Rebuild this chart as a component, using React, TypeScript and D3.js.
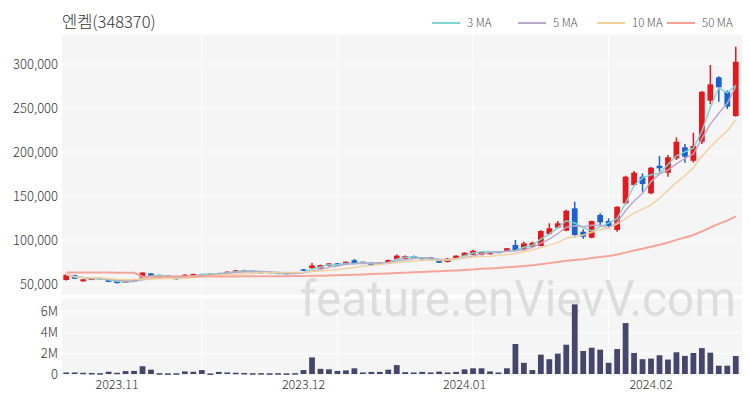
import React from 'react';
import * as d3 from 'd3';

const dates = [
  '2023-10-24','2023-10-25','2023-10-26','2023-10-27','2023-10-30','2023-10-31',
  '2023-11-01','2023-11-02','2023-11-03','2023-11-06','2023-11-07','2023-11-08','2023-11-09','2023-11-10',
  '2023-11-13','2023-11-14','2023-11-15','2023-11-16','2023-11-17','2023-11-20','2023-11-21','2023-11-22',
  '2023-11-23','2023-11-24','2023-11-27','2023-11-28','2023-11-29','2023-11-30',
  '2023-12-01','2023-12-04','2023-12-05','2023-12-06','2023-12-07','2023-12-08','2023-12-11','2023-12-12',
  '2023-12-13','2023-12-14','2023-12-15','2023-12-18','2023-12-19','2023-12-20','2023-12-21','2023-12-22',
  '2023-12-26','2023-12-27','2023-12-28',
  '2024-01-02','2024-01-03','2024-01-04','2024-01-05','2024-01-08','2024-01-09','2024-01-10','2024-01-11',
  '2024-01-12','2024-01-15','2024-01-16','2024-01-17','2024-01-18','2024-01-19','2024-01-22','2024-01-23',
  '2024-01-24','2024-01-25','2024-01-26','2024-01-29','2024-01-30','2024-01-31',
  '2024-02-01','2024-02-02','2024-02-05','2024-02-06','2024-02-07','2024-02-08','2024-02-13','2024-02-14',
  '2024-02-15','2024-02-16','2024-02-19',
];

const opens = [
  54500, 60000, 53000, 55000, 56800, 55500, 53800, 51500, 52500, 57000,
  62000, 60000, 59600, 57500, 59000, 60000, 60200, 60600, 61000, 62200,
  63300, 63600, 65100, 64000, 64000, 63600, 63300, 62200, 66700, 67800,
  67800, 70500, 73500, 72400, 77000, 73500, 74200, 72700, 74200, 78100,
  78800, 81800, 80000, 80300, 77300, 75000, 79200, 81800, 83300, 83000,
  83800, 86700, 86700, 94300, 88600, 92400, 93200, 106800, 114000, 110600,
  136000, 109400, 102600, 128400, 121600, 111400, 141700, 162500, 171900, 153100,
  184400, 176500, 192800, 205300, 190100, 211700, 258300, 284900, 268500, 240900,
];
const highs = [
  61000, 60500, 55800, 56500, 57000, 56000, 54200, 53300, 55000, 63500,
  62500, 60500, 60000, 58000, 61000, 61800, 61500, 62000, 62800, 64300,
  66000, 66300, 65600, 64400, 64300, 64000, 63800, 63600, 67200, 74000,
  72000, 74000, 74000, 75600, 78500, 75600, 74600, 75000, 77700, 83500,
  82500, 82300, 80500, 80800, 77800, 79500, 82600, 86000, 89000, 87200,
  86500, 87200, 91000, 100000, 98000, 98100, 111000, 119000, 121600, 134500,
  143500, 112200, 122000, 130300, 124700, 138500, 173000, 178400, 175800, 183000,
  195500, 196600, 216700, 209100, 221900, 269000, 298900, 286000, 270000, 319700,
];
const lows = [
  54000, 55500, 52800, 54500, 55500, 52000, 50500, 51200, 52300, 56500,
  59000, 58200, 58000, 55000, 58700, 59800, 60000, 60400, 60800, 62000,
  63000, 63300, 63400, 62000, 62300, 61200, 60800, 62000, 64800, 67500,
  67500, 70000, 70500, 72000, 73200, 73300, 71000, 72400, 74000, 77800,
  78500, 78500, 77800, 77800, 73800, 74500, 78800, 81500, 83000, 82500,
  83500, 85000, 86300, 88000, 88000, 92000, 92800, 105700, 113000, 110000,
  103000, 101500, 102000, 117000, 113300, 109400, 140500, 161000, 154900, 152000,
  177600, 171900, 191000, 187900, 188000, 209000, 254500, 257200, 248900, 240000,
];
const closes = [
  60500, 56000, 55300, 56200, 55800, 52500, 51000, 53000, 54500, 63000,
  59300, 58500, 58400, 55400, 60500, 61400, 61200, 61700, 62500, 64000,
  65500, 65900, 63600, 62200, 62600, 61400, 61000, 63300, 65100, 71000,
  71600, 73500, 70800, 75300, 73500, 75300, 71300, 74700, 77300, 82200,
  81800, 78800, 78100, 78100, 74200, 78800, 82200, 85600, 87800, 86700,
  86000, 85200, 90600, 88600, 96200, 96900, 110200, 113300, 119000, 133300,
  105700, 103800, 121600, 120100, 115900, 137800, 171900, 176500, 163600, 182200,
  181500, 194000, 211700, 194700, 206800, 268500, 276900, 273500, 251500, 302600,
];
const volumes = [
  150000, 150000, 120000, 100000, 80000, 220000, 120000, 280000, 300000, 750000,
  420000, 80000, 60000, 70000, 250000, 220000, 380000, 60000, 200000, 150000,
  120000, 100000, 80000, 80000, 70000, 80000, 60000, 80000, 380000, 1600000,
  500000, 450000, 300000, 350000, 550000, 150000, 200000, 200000, 420000, 860000,
  180000, 150000, 200000, 150000, 230000, 150000, 200000, 450000, 550000, 550000,
  250000, 150000, 550000, 2900000, 1080000, 380000, 1870000, 1430000, 1970000, 2830000,
  6730000, 2220000, 2540000, 2350000, 1080000, 2410000, 4920000, 2030000, 1430000, 1490000,
  1810000, 1400000, 2100000, 1750000, 2030000, 2500000, 2060000, 800000, 800000, 1740000,
];
// 50-day MA for the first 49 sessions (earlier history not shown)
const ma50Lead = [
  63200, 63150, 63100, 63050, 63000, 62950, 62900, 62850, 62800,
  58300, 58300, 58350, 58350, 58400, 58400, 58450, 58500, 58500, 58550, 58600,
  58650, 58700, 58750, 58800, 58850, 58900, 58950, 59000, 59050,
  59300, 59500, 59700, 59950, 60200, 60550, 60900, 61250, 61600, 62000,
  62500, 62900, 63300, 63700, 64100, 64500, 64950, 65400, 65900, 66400,
];

const priceTicks = [50000, 100000, 150000, 200000, 250000, 300000];
const volumeTicks = [0, 2000000, 4000000, 6000000];
const gridEvery = 16;

const maSeries = [
  { name: '3 MA', period: 3, color: '#80d5cf' },
  { name: '5 MA', period: 5, color: '#b9a8c9' },
  { name: '10 MA', period: 10, color: '#f2d09c' },
  { name: '50 MA', period: 50, color: '#f5a096' },
];

const UP = '#e3191f';
const DOWN = '#1a62d4';
const FONT = "'Noto Sans CJK KR', 'Noto Sans', sans-serif";

function sma(arr: number[], n: number): number[] {
  return arr.map((_, i) => d3.mean(arr.slice(Math.max(0, i - n + 1), i + 1)) as number);
}

export default function App() {
  const W = 750, H = 400;
  const left = 62, right = 740, plotRight = 742;
  const pTop = 35, pBottom = 295;
  const vTop = 299, vBottom = 375;

  const x = d3.scaleBand<string>().domain(dates).range([left, right]).padding(0);
  const step = x.step();
  const cx = (d: string) => (x(d) as number) + step / 2;
  const bodyW = step * 0.68;

  const y = d3.scaleLinear().domain([37500, 333000]).range([pBottom, pTop]);
  const yv = d3.scaleLinear().domain([0, 7150000]).range([374, 300]);

  const maValues = maSeries.map((m) => {
    if (m.period === 50) {
      return closes.map((_, i) =>
        i < ma50Lead.length ? ma50Lead[i] : (d3.mean(closes.slice(i - 49, i + 1)) as number));
    }
    return sma(closes, m.period);
  });

  const line = d3.line<number>().x((_, i) => cx(dates[i])).y((v) => y(v));

  const monthTicks: { i: number; label: string }[] = [];
  dates.forEach((d, i) => {
    if (i > 0 && d.slice(5, 7) !== dates[i - 1].slice(5, 7)) {
      monthTicks.push({ i, label: `${d.slice(0, 4)}.${d.slice(5, 7)}` });
    }
  });

  const gridIdx = dates.map((_, i) => i).filter((i) => i > 0 && i % gridEvery === 0);

  const legendX = [432, 518, 597, 667];

  return (
    <svg width={W} height={H} style={{ position: 'absolute', left: 0, top: 0, background: '#fff' }}
      fontFamily={FONT}>
      <rect x={0} y={0} width={W} height={H} fill="#fff" />
      <text x={left} y={28} fontSize={16.5} fill="#333" fontWeight={300}>엔켐(348370)</text>

      {maSeries.map((m, k) => (
        <g key={m.name}>
          <line x1={legendX[k]} x2={legendX[k] + 28} y1={23} y2={23} stroke={m.color} strokeWidth={2} />
          <text x={legendX[k] + 35} y={27} fontSize={11.5} fill="#555" fontWeight={300}>{m.name}</text>
        </g>
      ))}

      {/* panes */}
      <rect x={left} y={pTop} width={plotRight - left} height={pBottom - pTop} fill="#f5f5f5" />
      <rect x={left} y={vTop} width={plotRight - left} height={vBottom - vTop} fill="#f5f5f5" />

      {priceTicks.map((t) => (
        <line key={t} x1={left} x2={plotRight} y1={y(t)} y2={y(t)} stroke="#fff" strokeWidth={1} />
      ))}
      {volumeTicks.filter((t) => t > 0).map((t) => (
        <line key={t} x1={left} x2={plotRight} y1={yv(t)} y2={yv(t)} stroke="#fff" strokeWidth={1} />
      ))}
      {gridIdx.map((i) => (
        <g key={i}>
          <line x1={cx(dates[i])} x2={cx(dates[i])} y1={pTop} y2={pBottom} stroke="#fff" strokeWidth={1} />
          <line x1={cx(dates[i])} x2={cx(dates[i])} y1={vTop} y2={vBottom} stroke="#fff" strokeWidth={1} />
        </g>
      ))}

      <text x={736} y={316} fontSize={50} fill="#dddddd" textAnchor="end"
        style={{ fontFamily: "Roboto, 'Liberation Sans', sans-serif" }}
        textLength={436} lengthAdjust="spacingAndGlyphs">feature.enVievV.com</text>

      {/* y labels */}
      {priceTicks.map((t) => (
        <text key={t} x={58} y={y(t) + 4.5} fontSize={13} fill="#333" textAnchor="end" fontWeight={300}>
          {d3.format(',')(t)}
        </text>
      ))}
      {volumeTicks.map((t) => (
        <text key={t} x={58} y={yv(t) + 4.5} fontSize={13} fill="#333" textAnchor="end" fontWeight={300}>
          {t === 0 ? '0' : `${t / 1e6}M`}
        </text>
      ))}
      {monthTicks.map((m) => (
        <text key={m.label} x={cx(dates[m.i])} y={389} fontSize={12.5} fill="#333" textAnchor="middle" fontWeight={300}>
          {m.label}
        </text>
      ))}

      {/* volume bars */}
      {dates.map((d, i) => (
        <rect key={d} x={cx(d) - bodyW / 2} y={yv(volumes[i])} width={bodyW}
          height={Math.max(1.5, yv(0) - yv(volumes[i]))} fill="#44466b" />
      ))}

      {/* candles */}
      {dates.map((d, i) => {
        const up = closes[i] >= opens[i];
        const c = up ? UP : DOWN;
        const top = y(Math.max(opens[i], closes[i]));
        const bot = y(Math.min(opens[i], closes[i]));
        return (
          <g key={d}>
            <line x1={cx(d)} x2={cx(d)} y1={y(highs[i])} y2={y(lows[i])} stroke={c} strokeWidth={1.5} />
            <rect x={cx(d) - bodyW / 2} y={top} width={bodyW} height={Math.max(1.5, bot - top)} fill={c} />
          </g>
        );
      })}

      {/* moving averages */}
      {maSeries.map((m, k) => (
        <path key={m.name} d={line(maValues[k]) || ''} fill="none" stroke={m.color}
          strokeWidth={m.period === 50 ? 2 : 1.5} opacity={0.95} />
      ))}
    </svg>
  );
}
